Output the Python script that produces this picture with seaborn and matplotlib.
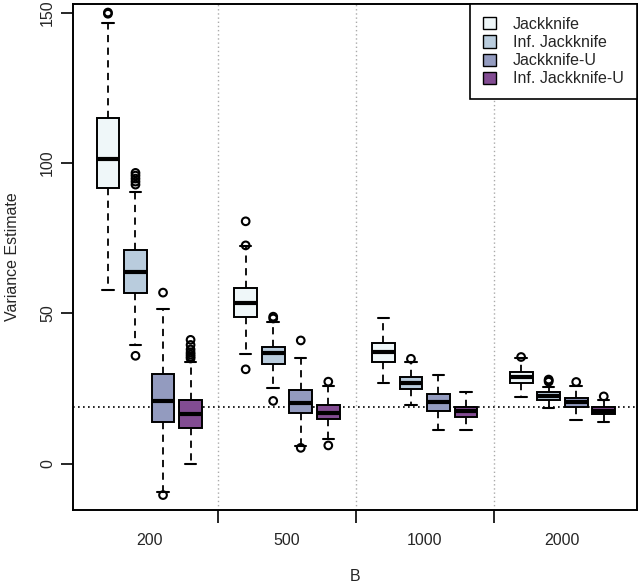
#!/usr/bin/env python
"""Variance estimates of the jackknife variants for several B."""

import matplotlib
matplotlib.use('Agg')
import matplotlib.pyplot as plt
import seaborn as sns
import pandas as pd

sns.set_style('white')
plt.rcParams['font.family'] = ['Liberation Sans', 'DejaVu Sans']
plt.rcParams['font.size'] = 11.5

B_LEVELS = ['200', '500', '1000', '2000']
METHODS = ['Jackknife', 'Inf. Jackknife', 'Jackknife-U', 'Inf. Jackknife-U']
COLORS = ['#EDF8FB', '#B3CDE3', '#8C96C6', '#88419D']
TRUE_VAR = 19.0

# five-number summaries (lower whisker, Q1, median, Q3, upper whisker) per B
JK_STATS = [[57.7, 91.6, 101.3, 114.8, 146.6],
            [36.5, 48.7, 53.4, 58.4, 72.3],
            [27.0, 34.0, 37.0, 40.1, 48.4],
            [22.2, 27.0, 28.8, 30.6, 35.0]]
IJK_STATS = [[39.5, 56.7, 63.6, 70.9, 90.5],
             [25.1, 33.2, 36.8, 38.8, 47.1],
             [19.6, 24.8, 26.7, 28.7, 34.0],
             [18.5, 21.3, 22.4, 23.7, 25.5]]
JKU_STATS = [[-9.3, 13.8, 20.9, 29.9, 51.4],
             [6.0, 16.8, 20.2, 24.6, 35.3],
             [11.2, 17.7, 20.6, 23.1, 29.6],
             [14.4, 19.0, 20.6, 22.0, 25.7]]
IJKU_STATS = [[0.0, 11.8, 16.6, 21.3, 33.8],
              [8.2, 14.8, 16.8, 19.6, 25.7],
              [11.2, 15.5, 17.4, 19.0, 23.7],
              [14.0, 16.4, 17.7, 18.8, 21.3]]

# outlying points
OUT_B = ['200', '200',
         '200', '200', '200', '200', '200', '200',
         '200', '200',
         '200', '200', '200', '200', '200', '200', '200',
         '500', '500', '500',
         '500', '500', '500',
         '500', '500',
         '500', '500',
         '1000',
         '2000',
         '2000', '2000', '2000',
         '2000',
         '2000']
OUT_METHOD = ['Jackknife', 'Jackknife',
              'Inf. Jackknife', 'Inf. Jackknife', 'Inf. Jackknife',
              'Inf. Jackknife', 'Inf. Jackknife', 'Inf. Jackknife',
              'Jackknife-U', 'Jackknife-U',
              'Inf. Jackknife-U', 'Inf. Jackknife-U', 'Inf. Jackknife-U',
              'Inf. Jackknife-U', 'Inf. Jackknife-U', 'Inf. Jackknife-U',
              'Inf. Jackknife-U',
              'Jackknife', 'Jackknife', 'Jackknife',
              'Inf. Jackknife', 'Inf. Jackknife', 'Inf. Jackknife',
              'Jackknife-U', 'Jackknife-U',
              'Inf. Jackknife-U', 'Inf. Jackknife-U',
              'Inf. Jackknife',
              'Jackknife',
              'Inf. Jackknife', 'Inf. Jackknife', 'Inf. Jackknife',
              'Jackknife-U',
              'Inf. Jackknife-U']
OUT_VALUE = [150.0, 149.6,
             92.8, 93.8, 94.8, 95.8, 96.7, 35.9,
             56.9, -10.4,
             35.0, 35.6, 36.3, 37.0, 38.0, 39.5, 41.2,
             80.6, 72.6, 31.4,
             48.9, 48.3, 20.9,
             41.0, 5.3,
             27.3, 6.1,
             34.9,
             35.5,
             27.3, 27.7, 28.0,
             27.2,
             22.4]

rows = []
for method, stats in zip(METHODS, [JK_STATS, IJK_STATS, JKU_STATS, IJKU_STATS]):
    for b, five in zip(B_LEVELS, stats):
        for v in five:
            rows.append({'B': b, 'Method': method, 'Variance': v})
df = pd.DataFrame(rows)
df_out = pd.DataFrame({'B': OUT_B, 'Method': OUT_METHOD, 'Variance': OUT_VALUE})

palette = dict(zip(METHODS, COLORS))

fig = plt.figure(figsize=(6.4, 5.86), dpi=100)
ax = fig.add_axes([0.114, 0.130, 0.881, 0.863])

dash = (0, (4, 3))
sns.boxplot(data=df, x='B', y='Variance', hue='Method', order=B_LEVELS,
            hue_order=METHODS, palette=palette, whis=(0, 100), width=0.8,
            gap=0.17, ax=ax, linecolor='black', linewidth=1.4,
            whiskerprops={'linestyle': dash, 'linewidth': 1.3},
            capprops={'linewidth': 1.5},
            medianprops={'linewidth': 3.0, 'color': 'black'})

n_before = len(ax.collections)
sns.stripplot(data=df_out, x='B', y='Variance', hue='Method', order=B_LEVELS,
              hue_order=METHODS, palette=palette, dodge=True, jitter=False,
              size=5.5, linewidth=1.5, edgecolor='black', legend=False, ax=ax)
for coll in ax.collections[n_before:]:
    coll.set_facecolor('none')
    coll.set_edgecolor('black')

for xv in [0.5, 1.5, 2.5]:
    ax.axvline(xv, color='#AAAAAA', linestyle=(0, (1, 2)), linewidth=1.0, zorder=0)
ax.axhline(TRUE_VAR, color='black', linestyle=(0, (1, 2)), linewidth=1.2, zorder=0)

ax.set_xlim(-0.554, 3.54)
ax.set_ylim(-15.3, 152.8)
ax.set_yticks([0, 50, 100, 150])
ax.tick_params(axis='y', length=9, width=1.4, labelrotation=90, pad=4,
               left=True, labelsize=11.5)
for lab in ax.get_yticklabels():
    lab.set_va('center')
ax.set_xticks([0.5, 1.5, 2.5], minor=True)
ax.tick_params(axis='x', which='major', length=0, pad=17, labelsize=11.5)
ax.tick_params(axis='x', which='minor', length=9, width=1.4, bottom=True)
ax.set_xlabel('B', fontsize=11.5, labelpad=15)
ax.set_ylabel('Variance Estimate', fontsize=11.5, labelpad=14)
for sp in ax.spines.values():
    sp.set_color('black')
    sp.set_linewidth(1.4)

handles, labels = ax.get_legend_handles_labels()
for h in handles:
    h.set_edgecolor('black')
    h.set_linewidth(1.0)
ax.legend(handles, labels, loc='upper right', fancybox=False, framealpha=1,
          edgecolor='black', borderaxespad=0, handlelength=0.8,
          handleheight=0.8, handletextpad=1.1, borderpad=0.8,
          labelspacing=0.2, fontsize=11.5).get_frame().set_linewidth(1.2)

fig.savefig('out.png', dpi=100, facecolor='white')
